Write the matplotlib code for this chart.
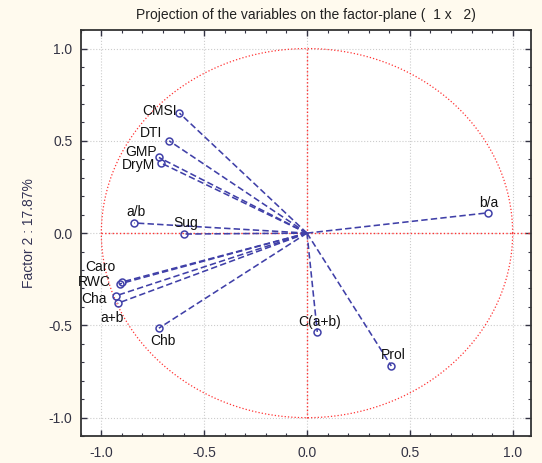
import numpy as np
import matplotlib
matplotlib.use("Agg")
import matplotlib.pyplot as plt
from matplotlib.ticker import MultipleLocator

plt.rcParams['font.family'] = ['Liberation Sans', 'DejaVu Sans']

# variable loadings on factor 1 / factor 2
names = ['CMSI', 'DTI', 'GMP', 'DryM', 'a/b', 'Sug', 'Caro', 'RWC',
         'Cha', 'a+b', 'Chb', 'b/a', 'C(a+b)', 'Prol']
f1 = [-0.62, -0.67, -0.72, -0.71, -0.84, -0.60, -0.90, -0.91,
      -0.93, -0.92, -0.72, 0.88, 0.05, 0.41]
f2 = [0.65, 0.50, 0.41, 0.38, 0.055, -0.005, -0.265, -0.275,
      -0.34, -0.38, -0.515, 0.11, -0.535, -0.72]

# label offsets in pixels (dx, dy) from the marker
label_off = {'CMSI': (-20, 2), 'DTI': (-18, 8), 'GMP': (-18, 5), 'DryM': (-22, -2),
             'a/b': (2, 11), 'Sug': (2, 11), 'Caro': (-22, 15), 'RWC': (-26, 2),
             'Cha': (-22, -3), 'a+b': (-6, -15), 'Chb': (4, -13), 'b/a': (1, 10),
             'C(a+b)': (2, 10), 'Prol': (2, 11)}

bg = '#fffaee'
fig = plt.figure(figsize=(5.42, 4.63), dpi=100, facecolor=bg)
ax = fig.add_axes([0.149, 0.058, 0.831, 0.877])
ax.set_facecolor('white')

ax.set_xlim(-1.1, 1.09)
ax.set_ylim(-1.1, 1.1)

ax.grid(True, which='major', color='#cccccc', linestyle=':', linewidth=0.8)
ax.set_axisbelow(True)

# unit circle and axes
t = np.linspace(0, 2 * np.pi, 400)
ax.plot(np.cos(t), np.sin(t), color='#ff3333', linestyle=':', linewidth=0.9)
ax.plot([0, 0], [-1, 1], color='#ff3333', linestyle=':', linewidth=1.0)
ax.plot([-1, 1.09], [0, 0], color='#ff3333', linestyle=':', linewidth=1.0)

lc = '#4040a8'
for n, x, y in zip(names, f1, f2):
    ax.plot([0, x], [0, y], color=lc, linestyle='--', dashes=(4, 2), linewidth=1.15)
    ax.plot(x, y, 'o', markersize=5, markerfacecolor='none',
            markeredgecolor=lc, markeredgewidth=1.1)
    dx, dy = label_off[n]
    ax.annotate(n, (x, y), xytext=(dx * 0.72, dy * 0.72), textcoords='offset points',
                ha='center', va='center', fontsize=10, color='#111111')

ax.xaxis.set_major_locator(MultipleLocator(0.5))
ax.yaxis.set_major_locator(MultipleLocator(0.5))
ax.xaxis.set_minor_locator(MultipleLocator(0.1))
ax.yaxis.set_minor_locator(MultipleLocator(0.1))
ax.tick_params(which='both', direction='in', top=True, right=True,
               colors='#333344', labelsize=10)
ax.tick_params(which='major', length=4, width=1)
ax.tick_params(which='minor', length=2.5, width=0.8)
ax.tick_params(axis='x', pad=7)
ax.tick_params(axis='y', pad=6)
ax.xaxis.set_major_formatter(matplotlib.ticker.FormatStrFormatter('%.1f'))
ax.yaxis.set_major_formatter(matplotlib.ticker.FormatStrFormatter('%.1f'))

for s in ax.spines.values():
    s.set_color('#333333')
    s.set_linewidth(1.3)

ax.set_ylabel('Factor 2 : 17.87%', fontsize=10, color='#333355', labelpad=9)
ax.set_title('Projection of the variables on the factor-plane (  1 x   2)',
             fontsize=10, color='#222222', pad=8)

fig.savefig('out.png', dpi=100, facecolor=bg)
